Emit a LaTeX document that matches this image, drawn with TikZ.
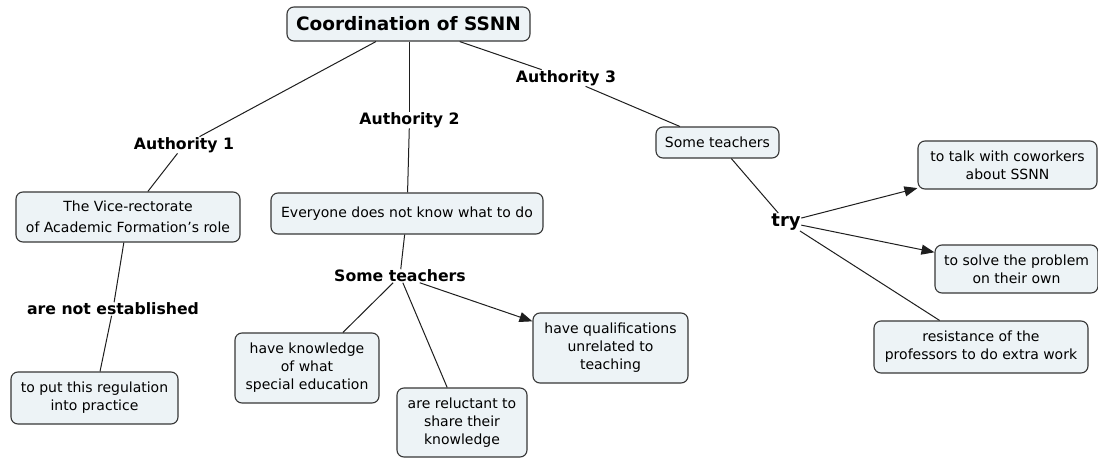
\documentclass[tikz,border=0pt]{standalone}
\usepackage{fontspec}
\setmainfont{DejaVu Sans}
\usetikzlibrary{arrows.meta}
\definecolor{boxfill}{RGB}{237,243,246}
\definecolor{boxline}{RGB}{55,55,55}
\definecolor{linecol}{RGB}{30,30,30}
\begin{document}
\begin{tikzpicture}[x=1pt,y=-1pt,
  concept/.style={draw=boxline, fill=boxfill, rounded corners=7pt, line width=1.1pt,
    align=center, inner sep=0pt, font=\fontsize{14}{18}\selectfont},
  linkword/.style={inner sep=0.5pt, font=\bfseries\fontsize{15.7}{18}\selectfont},
  conn/.style={draw=linecol, line width=1pt},
  arr/.style={conn, -{Triangle[length=13pt,width=10pt]}}]
\useasboundingbox[fill=white] (0,0) rectangle (1098,458);

% concepts
\node[concept, minimum width=243, minimum height=34,
      font=\bfseries\fontsize{18.5}{20}\selectfont] (root) at (408.5,24) {Coordination of SSNN};
\node[concept, minimum width=224, minimum height=50,
      font=\fontsize{14}{20.5}\selectfont] (vice) at (128,217)
  {The Vice-rectorate\\of Academic Formation’s role};
\node[concept, minimum width=272, minimum height=41] (every) at (407,213.5)
  {Everyone does not know what to do};
\node[concept, minimum width=123, minimum height=31] (stR) at (717.5,142.5) {Some teachers};
\node[concept, minimum width=179, minimum height=48] (talk) at (1007.5,165)
  {to talk with coworkers\\about SSNN};
\node[concept, minimum width=163, minimum height=48] (solve) at (1016.5,269)
  {to solve the problem\\on their own};
\node[concept, minimum width=214, minimum height=52] (resist) at (981,347)
  {resistance of the\\professors to do extra work};
\node[concept, minimum width=167, minimum height=52] (toput) at (94.5,398)
  {to put this regulation\\into practice};
\node[concept, minimum width=144, minimum height=70] (know) at (307,368)
  {have knowledge\\of what\\special education};
\node[concept, minimum width=130, minimum height=69] (reluct) at (462,422.5)
  {are reluctant to\\share their\\knowledge};
\node[concept, minimum width=155, minimum height=70] (qualif) at (610.5,348)
  {have qualifications\\unrelated to\\teaching};

% linking phrases
\node[linkword] (a1) at (184,145) {Authority 1};
\node[linkword] (a2) at (409.5,120) {Authority 2};
\node[linkword] (a3) at (566,78) {Authority 3};
\node[linkword] (notest) at (113,309) {are not established};
\node[linkword] (stM) at (400,276) {Some teachers};
\node[linkword, font=\bfseries\fontsize{18}{20}\selectfont] (try) at (786,222) {try};

% connectors
\draw[conn] (root) -- (a1);
\draw[conn] (a1) -- (vice);
\draw[conn] (root.south -| a2) -- (a2);
\draw[conn] (a2) -- (every);
\draw[conn] (root) -- (a3);
\draw[conn] (a3) -- (stR);
\draw[conn] (vice) -- (notest);
\draw[conn] (notest) -- (toput);
\draw[conn] (every) -- (stM);
\draw[conn] (stM) -- (know);
\draw[conn] (stM) -- (reluct);
\draw[arr] (stM) -- (qualif);
\draw[conn] (stR) -- (try);
\draw[arr] (try) -- (talk);
\draw[arr] (try) -- (solve);
\draw[conn] (try) -- (resist);
\end{tikzpicture}
\end{document}
